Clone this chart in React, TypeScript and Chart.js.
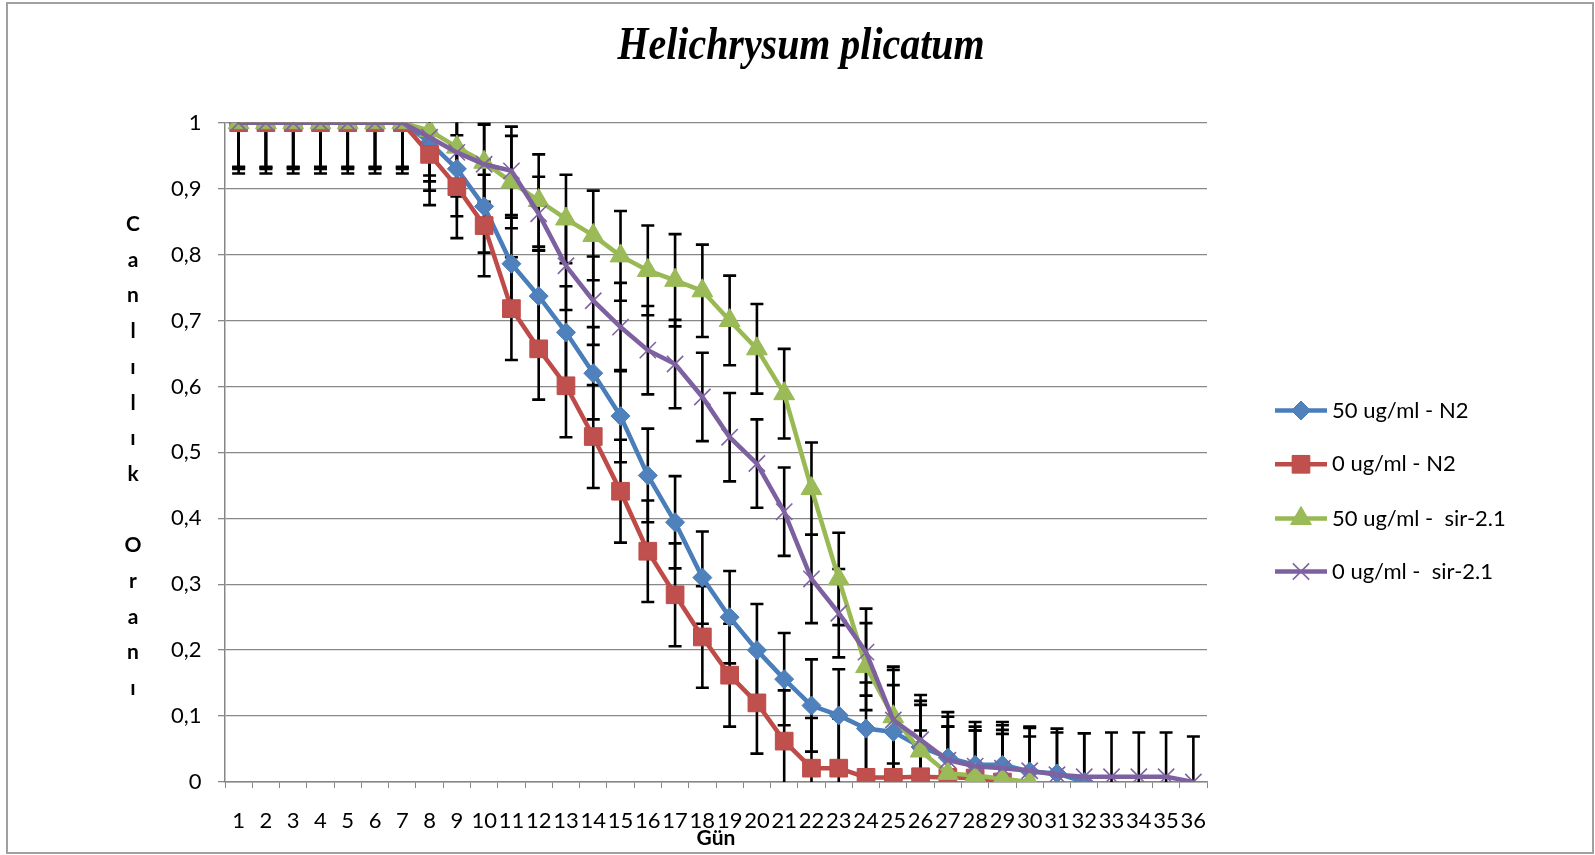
import React, { useEffect, useRef } from 'react';
import { Chart, registerables } from 'chart.js';
import { drawPoint } from 'chart.js/helpers';

Chart.register(...registerables);

const chartTitle = 'Helichrysum plicatum';
const yAxisTitle = 'Canlılık Oranı';
const xAxisTitle = 'Gün';

const days = ['1','2','3','4','5','6','7','8','9','10','11','12','13','14','15','16','17','18','19','20','21','22','23','24','25','26','27','28','29','30','31','32','33','34','35','36'];
const yTickLabels = ['0','0,1','0,2','0,3','0,4','0,5','0,6','0,7','0,8','0,9','1'];

const seriesNames = ['50 ug/ml - N2', '0 ug/ml - N2', '50 ug/ml -  sir-2.1', '0 ug/ml -  sir-2.1'];

const blueVals = [1,1,1,1,1,1,1,0.97,0.93,0.873,0.786,0.737,0.682,0.62,0.555,0.465,0.394,0.31,0.25,0.2,0.156,0.116,0.101,0.081,0.076,0.053,0.037,0.026,0.026,0.016,0.013,0];
const redVals = [1,1,1,1,1,1,1,0.952,0.903,0.844,0.718,0.657,0.601,0.524,0.441,0.35,0.284,0.22,0.162,0.12,0.062,0.021,0.021,0.007,0.007,0.008,0.007,0.006,0];
const greenVals = [1,1,1,1,1,1,1,0.988,0.963,0.94,0.91,0.882,0.854,0.829,0.798,0.776,0.761,0.745,0.7,0.657,0.589,0.445,0.308,0.175,0.099,0.047,0.013,0.01,0.005,0];
const purpleVals = [1,1,1,1,1,1,1,0.978,0.955,0.937,0.927,0.862,0.783,0.73,0.69,0.655,0.634,0.584,0.523,0.483,0.41,0.308,0.256,0.197,0.094,0.064,0.033,0.024,0.021,0.017,0.011,0.008,0.008,0.008,0.008,0];

const blueErr = [0.07,0.07,0.07,0.07,0.07,0.07,0.07,0.073,0.072,0.07,0.07,0.07,0.07,0.07,0.07,0.071,0.07,0.07,0.07,0.07,0.07,0.07,0.07,0.07,0.071,0.07,0.062,0.058,0.06,0.053,0.062,0.074];
const redErr = [0.077,0.077,0.077,0.077,0.077,0.077,0.077,0.077,0.078,0.077,0.078,0.077,0.078,0.078,0.078,0.077,0.078,0.077,0.078,0.077,0.077,0.076,0.075,0.075,0.072,0.07,0.077,0.072,0.073];
const greenErr = [0.068,0.068,0.068,0.068,0.068,0.068,0.068,0.068,0.068,0.06,0.07,0.07,0.067,0.068,0.068,0.068,0.07,0.07,0.068,0.068,0.068,0.07,0.07,0.066,0.071,0.07,0.071,0.068,0.074,0.082];
const purpleErr = [0.067,0.067,0.067,0.067,0.067,0.067,0.067,0.067,0.067,0.06,0.067,0.056,0.067,0.067,0.067,0.067,0.067,0.067,0.067,0.067,0.067,0.067,0.067,0.066,0.081,0.068,0.073,0.067,0.07,0.067,0.07,0.066,0.067,0.067,0.067,0.069];

const seriesValues = [blueVals, redVals, greenVals, purpleVals];
const seriesErrors = [blueErr, redErr, greenErr, purpleErr];
const lineColors = ['#4A7EBB', '#BE4B48', '#98B954', '#7D60A0'];
const markerColors = ['#4F81BD', '#C0504D', '#9BBB59', '#8064A2'];
const markerStyles = ['rectRot', 'rect', 'triangle', 'crossRot'];
const markerRadii = [9.5, 12.5, 12, 11.5];
const markerBorderWidths = [1, 1, 1, 1.6];

const FONT = 'Lato';

const errorBarPlugin = {
  id: 'errorBars',
  beforeDatasetsDraw(chart: any) {
    const { ctx, chartArea, scales } = chart;
    const xs = scales.x;
    const ys = scales.y;
    ctx.save();
    ctx.beginPath();
    ctx.rect(chartArea.left, chartArea.top, chartArea.right - chartArea.left, chartArea.bottom - chartArea.top);
    ctx.clip();
    ctx.strokeStyle = '#000';
    ctx.lineCap = 'butt';
    seriesErrors.forEach((errs, si) => {
      const vals = seriesValues[si];
      vals.forEach((v, i) => {
        const e = errs[i];
        if (e == null) return;
        const px = xs.getPixelForValue(i);
        const yTop = ys.getPixelForValue(v + e);
        const yBot = ys.getPixelForValue(v - e);
        ctx.lineWidth = 2.6;
        ctx.beginPath();
        ctx.moveTo(px, yTop);
        ctx.lineTo(px, yBot);
        ctx.stroke();
        ctx.beginPath();
        ctx.moveTo(px - 6.5, yTop);
        ctx.lineTo(px + 6.5, yTop);
        ctx.moveTo(px - 6.5, yBot);
        ctx.lineTo(px + 6.5, yBot);
        ctx.stroke();
      });
    });
    ctx.restore();
  },
};

const decorPlugin = {
  id: 'decor',
  afterDraw(chart: any) {
    const { ctx, chartArea } = chart;
    ctx.save();
    // outer border
    ctx.strokeStyle = '#a0a0a0';
    ctx.lineWidth = 2;
    ctx.strokeRect(7, 3, 1586, 850);

    // title
    ctx.fillStyle = '#000';
    ctx.font = `italic bold 46px "Liberation Serif"`;
    const tw = ctx.measureText(chartTitle).width;
    ctx.save();
    ctx.translate(801, 59);
    ctx.scale(367 / tw, 1);
    ctx.textAlign = 'center';
    ctx.textBaseline = 'alphabetic';
    ctx.fillText(chartTitle, 0, 0);
    ctx.restore();

    // stacked y-axis title
    ctx.font = `bold 21px ${FONT}`;
    ctx.textAlign = 'center';
    ctx.textBaseline = 'middle';
    const letters = Array.from(yAxisTitle);
    const step = 35.7;
    const cy = (chartArea.top + chartArea.bottom) / 2 + 4;
    const startY = cy - ((letters.length - 1) * step) / 2;
    letters.forEach((ch, i) => {
      ctx.fillText(ch, 133, startY + i * step);
    });

    // x-axis title
    ctx.font = `bold 21px ${FONT}`;
    ctx.fillText(xAxisTitle, (chartArea.left + chartArea.right) / 2, 838);

    // legend
    const legendY = [410.5, 464.3, 518.5, 571.5];
    seriesNames.forEach((name, i) => {
      const y = legendY[i];
      ctx.strokeStyle = lineColors[i];
      ctx.lineWidth = 4.5;
      ctx.lineCap = 'butt';
      ctx.beginPath();
      ctx.moveTo(1275, y);
      ctx.lineTo(1327, y);
      ctx.stroke();
      ctx.fillStyle = markerColors[i];
      ctx.strokeStyle = markerStyles[i] === 'crossRot' ? markerColors[i] : lineColors[i];
      ctx.lineWidth = markerBorderWidths[i];
      drawPoint(ctx, { pointStyle: markerStyles[i], radius: markerRadii[i], rotation: 0, borderWidth: markerBorderWidths[i] } as any, 1301, y);
      ctx.fillStyle = '#000';
      ctx.font = `22px ${FONT}`;
      ctx.textAlign = 'left';
      ctx.textBaseline = 'middle';
      ctx.fillText(name, 1332, y);
    });
    ctx.restore();
  },
};

export default function App() {
  const ref = useRef<HTMLCanvasElement>(null);
  useEffect(() => {
    if (!ref.current) return;
    Chart.defaults.font.family = FONT;
    const chart = new Chart(ref.current, {
      type: 'line',
      data: {
        labels: days,
        datasets: seriesValues.map((vals, i) => ({
          label: seriesNames[i],
          data: vals,
          borderColor: lineColors[i],
          backgroundColor: markerColors[i],
          borderWidth: 4.5,
          tension: 0,
          fill: false,
          pointStyle: markerStyles[i] as any,
          pointRadius: markerRadii[i],
          pointHoverRadius: markerRadii[i],
          pointBackgroundColor: markerColors[i],
          pointBorderColor: markerStyles[i] === 'crossRot' ? markerColors[i] : lineColors[i],
          pointBorderWidth: markerBorderWidths[i],
          order: 4 - i,
        })),
      },
      options: {
        responsive: false,
        animation: false,
        devicePixelRatio: 1,
        layout: { padding: { left: 0, top: 122.7, right: 388, bottom: 0 } },
        plugins: {
          legend: { display: false },
          title: { display: false },
          tooltip: { enabled: false },
        },
        scales: {
          x: {
            type: 'category',
            offset: true,
            grid: { display: true, drawOnChartArea: false, drawTicks: true, tickLength: 6, offset: true, color: '#868686', lineWidth: 1 },
            border: { display: true, color: '#868686', width: 1.5 },
            ticks: { autoSkip: false, maxRotation: 0, minRotation: 0, padding: 20, color: '#000', font: { size: 22, family: FONT } },
            afterFit: (s: any) => { s.height = 73; },
          },
          y: {
            min: 0,
            max: 1,
            ticks: {
              stepSize: 0.1,
              padding: 16.5,
              color: '#000',
              font: { size: 22, family: FONT },
              callback: (_v: any, i: number) => yTickLabels[i],
            },
            grid: { color: '#888888', lineWidth: 1.3, tickLength: 7, drawTicks: true },
            border: { display: true, color: '#868686', width: 1.5 },
            afterFit: (s: any) => { s.width = 225; },
          },
        },
      },
      plugins: [errorBarPlugin, decorPlugin],
    } as any);
    return () => chart.destroy();
  }, []);
  return (
    <div style={{ position: 'absolute', left: 0, top: 0, width: 1595, height: 855, background: '#fff' }}>
      <canvas ref={ref} width={1595} height={855} style={{ display: 'block', width: 1595, height: 855 }} />
    </div>
  );
}
